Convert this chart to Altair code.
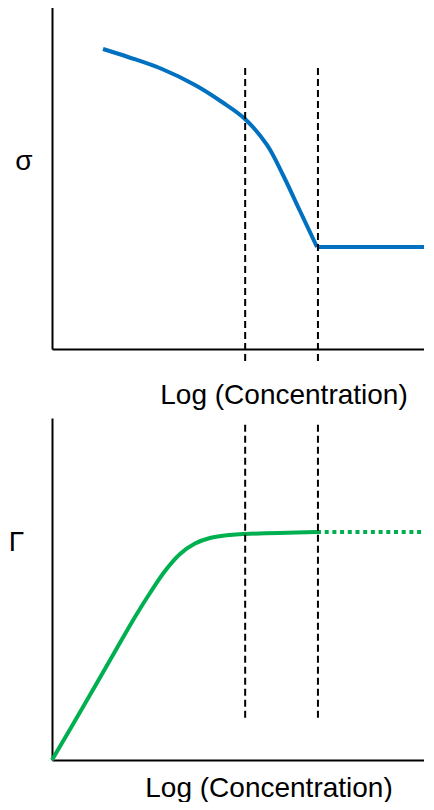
import altair as alt
import pandas as pd

# ---- data (x: 0-100 log-concentration units, y: 0-100 arbitrary units) ----
sigma_x = [13.39, 19.95, 28.87, 37.53, 44.62, 50.66, 56.43, 60.63, 65.09, 69.55]
sigma_y = [87.46, 85.13, 81.63, 76.97, 72.01, 67.06, 59.48, 50.73, 40.23, 29.74]
sigma_flat_x = [69.55, 97.9]
sigma_flat_y = [29.74, 29.74]

gamma_x = [0.0, 8.14, 17.06, 21.78, 25.72, 29.66, 33.60, 37.53, 41.47, 46.72, 50.66, 69.55]
gamma_y = [0.0, 15.50, 32.75, 41.81, 48.83, 55.26, 60.23, 63.30, 64.91, 65.79, 66.08, 66.67]
gamma_dot_x = [69.55, 97.4]
gamma_dot_y = [66.67, 66.67]

cmc_x = [50.7, 69.8]
top_rule_y = [81.9, -4.1]
bottom_rule_y = [98.0, 12.3]

BLUE = "#0070C0"
GREEN = "#00B050"
FONT = "Liberation Sans"

xs = alt.Scale(domain=[0, 100], nice=False, zero=False)
ys = alt.Scale(domain=[0, 100], nice=False, zero=False)

def xaxis(tx, ty):
    return alt.Axis(title="Log (Concentration)", titleX=tx, titleY=ty,
                    titleAlign="center", titleBaseline="alphabetic",
                    titleFont=FONT, titleFontSize=28, titleFontWeight="normal",
                    titleColor="black")

def yaxis(t, tx, ty):
    return alt.Axis(title=t, titleX=tx, titleY=ty, titleAngle=0,
                    titleAlign="center", titleBaseline="middle",
                    titleFont=FONT, titleFontSize=28, titleFontWeight="normal",
                    titleColor="black")

# ---------- top panel ----------
s_df = pd.DataFrame({"x": sigma_x, "y": sigma_y})
sf_df = pd.DataFrame({"x": sigma_flat_x, "y": sigma_flat_y})
tr_df = pd.DataFrame({"x": cmc_x, "y": [top_rule_y[0]] * 2, "y2": [top_rule_y[1]] * 2})

top_curve = alt.Chart(s_df).mark_line(color=BLUE, strokeWidth=4, interpolate="catmull-rom").encode(
    x=alt.X("x:Q", scale=xs, axis=xaxis(231.5, 54)),
    y=alt.Y("y:Q", scale=ys, axis=yaxis("σ", -28.5, 155.5)),
)
top_flat = alt.Chart(sf_df).mark_line(color=BLUE, strokeWidth=4).encode(
    x=alt.X("x:Q", scale=xs),
    y=alt.Y("y:Q", scale=ys),
)
top_rules = alt.Chart(tr_df).mark_rule(color="black", strokeWidth=2, strokeDash=[7, 4]).encode(
    x=alt.X("x:Q", scale=xs),
    y=alt.Y("y:Q", scale=ys),
    y2="y2:Q",
)
top = alt.layer(top_curve, top_flat, top_rules).properties(width=381, height=343)

# ---------- bottom panel ----------
g_df = pd.DataFrame({"x": gamma_x, "y": gamma_y})
gd_df = pd.DataFrame({"x": gamma_dot_x, "y": gamma_dot_y})
br_df = pd.DataFrame({"x": cmc_x, "y": [bottom_rule_y[0]] * 2, "y2": [bottom_rule_y[1]] * 2})

bot_curve = alt.Chart(g_df).mark_line(color=GREEN, strokeWidth=4, interpolate="catmull-rom").encode(
    x=alt.X("x:Q", scale=xs, axis=xaxis(216.5, 36)),
    y=alt.Y("y:Q", scale=ys, axis=yaxis("Γ", -36, 124)),
)
bot_dot = alt.Chart(gd_df).mark_line(color=GREEN, strokeWidth=4, strokeDash=[4, 3.7], strokeCap="butt").encode(
    x=alt.X("x:Q", scale=xs),
    y=alt.Y("y:Q", scale=ys),
)
bot_rules = alt.Chart(br_df).mark_rule(color="black", strokeWidth=2, strokeDash=[7, 4]).encode(
    x=alt.X("x:Q", scale=xs),
    y=alt.Y("y:Q", scale=ys),
    y2="y2:Q",
)
bottom = alt.layer(bot_curve, bot_dot, bot_rules).properties(width=381, height=342)

chart = alt.vconcat(top, bottom, spacing=9).properties(
    padding={"left": 0, "top": -2, "right": -9, "bottom": 0}
).configure_view(stroke=None).configure_axis(
    ticks=False, labels=False, grid=False, domainColor="black", domainWidth=2
)

chart.save("out.html", embed_options={"renderer": "svg", "actions": False})
